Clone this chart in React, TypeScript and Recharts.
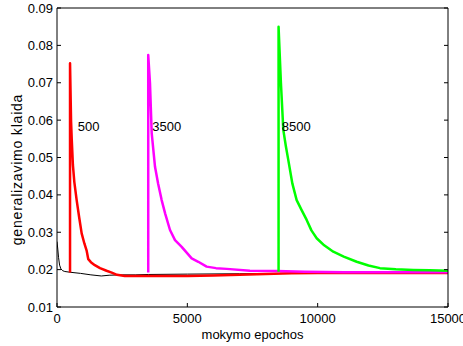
import React from "react";
import { LineChart, Line, XAxis, YAxis, ReferenceDot, Label } from "recharts";

// asis
const xTicks = [0, 5000, 10000, 15000];
const yTicks = [0.01, 0.02, 0.03, 0.04, 0.05, 0.06, 0.07, 0.08, 0.09];

// bazinis mokymas (juoda)
const baseX = [0, 30, 60, 100, 150, 220, 300, 500, 900, 1300, 1700, 2000, 2500, 3000, 3500, 5000, 7000, 9000, 11000, 13000, 15000];
const baseY = [0.0275, 0.0255, 0.0232, 0.0212, 0.0202, 0.0197, 0.0195, 0.0193, 0.019, 0.0186, 0.0183, 0.0185, 0.0186, 0.0186, 0.0187, 0.0188, 0.0189, 0.019, 0.019, 0.019, 0.019];

// nuo 500 (raudona)
const redX = [500, 500, 540, 565, 610, 664, 754, 850, 946, 1050, 1140, 1200, 1300, 1450, 1650, 1900, 2100, 2300, 2600, 3000, 4000, 5000, 6000, 7000, 8000, 9000, 10000, 12000, 15000];
const redY = [0.0192, 0.0752, 0.0596, 0.055, 0.048, 0.0435, 0.0386, 0.034, 0.0297, 0.027, 0.025, 0.0228, 0.022, 0.0212, 0.0204, 0.0197, 0.0192, 0.0186, 0.0183, 0.0183, 0.0183, 0.0183, 0.0184, 0.0186, 0.0188, 0.019, 0.0191, 0.0191, 0.0191];

// nuo 3500 (violetine)
const magX = [3500, 3500, 3567, 3633, 3760, 3880, 4015, 4150, 4335, 4527, 4783, 5166, 5420, 5740, 6100, 6510, 7400, 8430, 9500, 11000, 13000, 15000];
const magY = [0.0192, 0.0774, 0.0699, 0.0565, 0.0475, 0.043, 0.0386, 0.035, 0.0306, 0.0279, 0.0261, 0.023, 0.0221, 0.0208, 0.0204, 0.0202, 0.0197, 0.0196, 0.0194, 0.0193, 0.0193, 0.0193];

// nuo 8500 (zalia)
const grnX = [8500, 8500, 8590, 8682, 8780, 8874, 9030, 9194, 9380, 9578, 9760, 9962, 10250, 10600, 11000, 11497, 11950, 12390, 13000, 13670, 14300, 15000];
const grnY = [0.0194, 0.085, 0.07, 0.0574, 0.053, 0.0493, 0.043, 0.0386, 0.036, 0.0333, 0.0305, 0.0284, 0.0265, 0.0248, 0.0235, 0.0221, 0.0211, 0.0204, 0.0201, 0.0199, 0.0198, 0.0197];

// uzrasai
const notes = ["500", "3500", "8500"];
const noteX = [794, 3656, 8620];
const noteY = 0.0582;

const zip = (xs: number[], ys: number[]) => xs.map((x, i) => ({ x, y: ys[i] }));

const FONT = 13;

const BottomTick = (props: any) => {
  const { x, y, payload } = props;
  return (
    <g>
      <line x1={x} y1={y - 7} x2={x} y2={y - 11} stroke="#000" />
      <text x={x} y={y} dy="0.71em" textAnchor="middle" fontSize={FONT} fill="#000">
        {payload.value}
      </text>
    </g>
  );
};

const LeftTick = (props: any) => {
  const { x, y, payload } = props;
  return (
    <g>
      <line x1={x + 4} y1={y} x2={x + 8} y2={y} stroke="#000" />
      <text x={x} y={y} dy="0.355em" textAnchor="end" fontSize={FONT} fill="#000">
        {payload.value.toFixed(2)}
      </text>
    </g>
  );
};

const TopTick = (props: any) => {
  const { x, y } = props;
  return <line x1={x} y1={y} x2={x} y2={y + 4} stroke="#000" />;
};

const RightTick = (props: any) => {
  const { x, y } = props;
  return <line x1={x} y1={y} x2={x - 4} y2={y} stroke="#000" />;
};

// ylabel (kiek zemiau centro, kaip originale)
const YLabel = (props: any) => {
  const vb = props.viewBox;
  const cx = vb.x + 17;
  const cy = vb.y + vb.height / 2 + 12;
  return (
    <text
      x={cx}
      y={cy}
      dy="0.355em"
      transform={`rotate(-90 ${cx} ${cy})`}
      textAnchor="middle"
      fontSize={14}
      letterSpacing={0.8}
      fill="#000"
    >
      generalizavimo klaida
    </text>
  );
};

export default function App() {
  return (
    <div style={{ position: "absolute", left: 0, top: 0 }}>
      <LineChart
        width={463}
        height={346}
        margin={{ top: 7, right: 14, bottom: 0, left: 0 }}
        style={{ fontFamily: "'Liberation Sans', Arial, sans-serif" }}
      >
        <XAxis
          xAxisId="b"
          dataKey="x"
          type="number"
          domain={[0, 15000]}
          ticks={xTicks}
          interval={0}
          height={39}
          tickLine={false}
          tickSize={0}
          tickMargin={7}
          tick={BottomTick}
          axisLine={{ stroke: "#000" }}
          allowDataOverflow
        >
          <Label value="mokymo epochos" position="insideBottom" offset={7} fontSize={FONT} fill="#000" />
        </XAxis>
        <XAxis
          xAxisId="t"
          orientation="top"
          type="number"
          domain={[0, 15000]}
          ticks={xTicks}
          interval={0}
          height={1}
          tickLine={false}
          tickSize={0}
          tickMargin={0}
          tick={TopTick}
          axisLine={{ stroke: "#000" }}
          allowDataOverflow
        />
        <YAxis
          yAxisId="l"
          type="number"
          domain={[0.01, 0.09]}
          ticks={yTicks}
          interval={0}
          width={57}
          tickLine={false}
          tickSize={0}
          tickMargin={4}
          tick={LeftTick}
          axisLine={{ stroke: "#000" }}
          allowDataOverflow
        >
          <Label content={YLabel} />
        </YAxis>
        <YAxis
          yAxisId="r"
          orientation="right"
          type="number"
          domain={[0.01, 0.09]}
          ticks={yTicks}
          interval={0}
          width={1}
          tickLine={false}
          tickSize={0}
          tickMargin={0}
          tick={RightTick}
          axisLine={{ stroke: "#000" }}
          allowDataOverflow
        />
        <Line xAxisId="b" yAxisId="l" data={zip(baseX, baseY)} dataKey="y" type="linear" stroke="#000" strokeWidth={1} strokeLinejoin="round" dot={false} isAnimationActive={false} />
        <Line xAxisId="b" yAxisId="l" data={zip(redX, redY)} dataKey="y" type="linear" stroke="#ff0000" strokeWidth={2.5} strokeLinejoin="round" dot={false} isAnimationActive={false} />
        <Line xAxisId="b" yAxisId="l" data={zip(magX, magY)} dataKey="y" type="linear" stroke="#ff00ff" strokeWidth={2.5} strokeLinejoin="round" dot={false} isAnimationActive={false} />
        <Line xAxisId="b" yAxisId="l" data={zip(grnX, grnY)} dataKey="y" type="linear" stroke="#00ff00" strokeWidth={2.5} strokeLinejoin="round" dot={false} isAnimationActive={false} />
        {notes.map((n, i) => (
          <ReferenceDot
            key={n}
            xAxisId="b"
            yAxisId="l"
            x={noteX[i]}
            y={noteY}
            r={0}
            stroke="none"
            label={{ value: n, position: "right", offset: 0, fontSize: FONT, fill: "#000" }}
          />
        ))}
      </LineChart>
    </div>
  );
}
